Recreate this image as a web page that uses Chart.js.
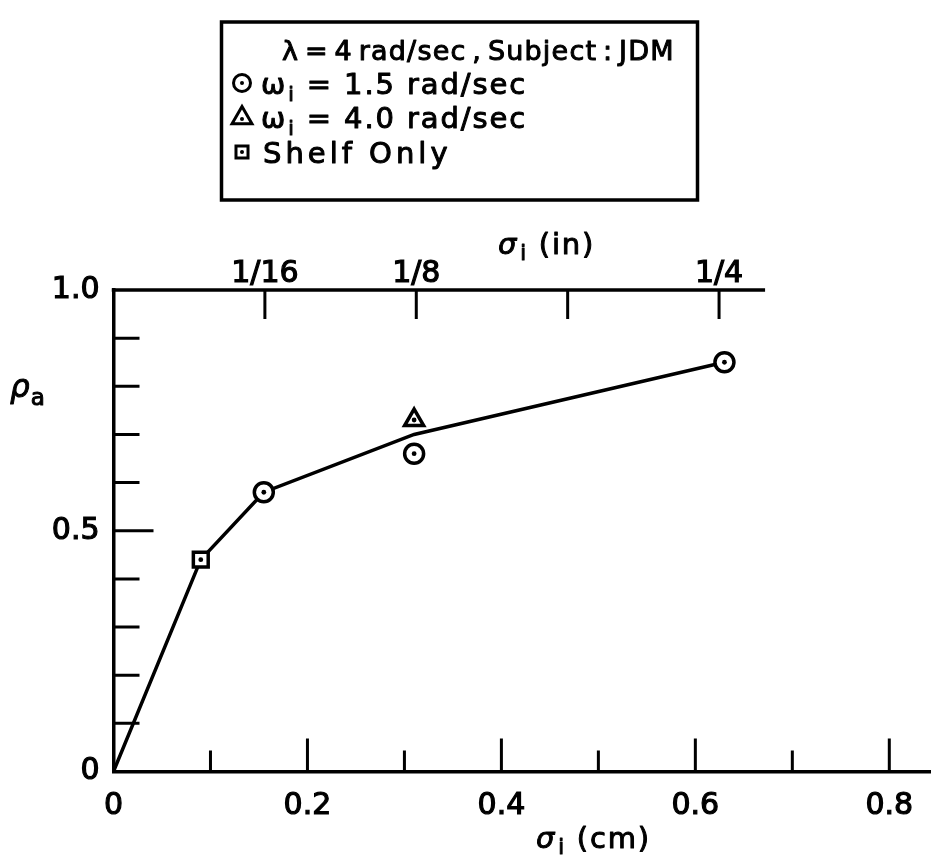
<!DOCTYPE html>
<html>
<head>
<meta charset="utf-8">
<script src="https://cdn.jsdelivr.net/npm/chart.js@4"></script>
<style>
  html, body { margin: 0; padding: 0; background: #fff; }
  #wrap { width: 931px; height: 863px; }
</style>
</head>
<body>
<div id="wrap"><canvas id="chart" width="931" height="863"></canvas></div>
<script>
// Measured aperture ratio rho_a against tracking error sigma_i (cm)
const sigmaOmega15 = [0.155, 0.31, 0.63];
const rhoOmega15 = [0.58, 0.66, 0.85];
const sigmaOmega40 = [0.31];
const rhoOmega40 = [0.73];
const sigmaShelf = [0.09];
const rhoShelf = [0.44];

// Faired curve through the data
const fairSigma = [0, 0.09, 0.155, 0.31, 0.63];
const fairRho = [0, 0.44, 0.58, 0.70, 0.85];

// Axis ticks
const cmTicks = [0, 0.1, 0.2, 0.3, 0.4, 0.5, 0.6, 0.7, 0.8];
const cmTickLabels = ['0', '', '0.2', '', '0.4', '', '0.6', '', '0.8'];
const rhoTicks = [0, 0.1, 0.2, 0.3, 0.4, 0.5, 0.6, 0.7, 0.8, 0.9, 1.0];
const rhoTickLabels = ['0', '', '', '', '', '0.5', '', '', '', '', '1.0'];
const inchTicks = [1 / 16, 1 / 8, 3 / 16, 1 / 4];
const inchTickLabels = ['1/16', '1/8', '', '1/4'];

const legendTitle = 'λ = 4 rad/sec , Subject : JDM';
const legendRows = [
  { style: 'circle', sub: 'i', pre: 'ω', text: ' = 1.5 rad/sec' },
  { style: 'triangle', sub: 'i', pre: 'ω', text: ' = 4.0 rad/sec' },
  { style: 'rect', sub: '', pre: '', text: 'Shelf Only' }
];

const INK = '#000';
const FONT = 'DejaVu Sans';

const pts = (xs, ys) => xs.map((x, i) => ({ x, y: ys[i] }));

// Draws a run of text pieces, each with its own font and baseline shift
function drawRuns(ctx, runs, x, y, spacing, wordSpacing) {
  ctx.save();
  ctx.fillStyle = INK;
  ctx.strokeStyle = INK;
  ctx.lineWidth = 1;
  ctx.lineJoin = 'round';
  ctx.textAlign = 'left';
  ctx.textBaseline = 'alphabetic';
  if ('letterSpacing' in ctx) ctx.letterSpacing = (spacing || 0) + 'px';
  if ('wordSpacing' in ctx) ctx.wordSpacing = (wordSpacing || 0) + 'px';
  let cx = x;
  for (const r of runs) {
    ctx.font = r.font;
    const tx = cx + (r.dx || 0);
    ctx.fillText(r.t, tx, y + (r.dy || 0));
    ctx.strokeText(r.t, tx, y + (r.dy || 0));
    cx = tx + ctx.measureText(r.t).width;
  }
  ctx.restore();
  return cx;
}

const decorPlugin = {
  id: 'decor',
  beforeDatasetsDraw(chart) {
    const { ctx, chartArea, scales } = chart;
    const xs = scales.x, ys = scales.y, xt = scales.xIn;
    ctx.save();
    ctx.strokeStyle = INK;
    ctx.lineCap = 'butt';
    ctx.lineWidth = 3;
    ctx.beginPath();
    // inward ticks on the cm axis
    cmTicks.forEach((v, i) => {
      if (v === 0) return;
      const px = xs.getPixelForValue(v);
      const len = cmTickLabels[i] ? 33 : 21;
      ctx.moveTo(px, chartArea.bottom);
      ctx.lineTo(px, chartArea.bottom - len);
    });
    // inward ticks on the rho axis
    rhoTicks.forEach((v, i) => {
      if (v === 0 || v === 1) return;
      const py = ys.getPixelForValue(v);
      const len = rhoTickLabels[i] ? 40 : 26;
      ctx.moveTo(chartArea.left, py);
      ctx.lineTo(chartArea.left + len, py);
    });
    // inward ticks on the inch axis
    inchTicks.forEach((v) => {
      const px = xt.getPixelForValue(v);
      ctx.moveTo(px, chartArea.top);
      ctx.lineTo(px, chartArea.top + 29);
    });
    ctx.stroke();
    // inch axis line, stopping short of the right edge
    ctx.lineWidth = 3.5;
    ctx.beginPath();
    ctx.moveTo(xt.getPixelForValue(0) - 1.75, chartArea.top);
    ctx.lineTo(xt.getPixelForValue(0.269), chartArea.top);
    ctx.stroke();
    ctx.restore();
  },
  afterDraw(chart) {
    const { ctx } = chart;
    // axis titles
    drawRuns(ctx, [
      { t: 'σ', font: `italic 29px ${FONT}` },
      { t: 'i', font: `21px ${FONT}`, dy: 6, dx: 2 },
      { t: ' (cm)', font: `29px ${FONT}` }
    ], 536, 848, 1.8);
    drawRuns(ctx, [
      { t: 'σ', font: `italic 29px ${FONT}` },
      { t: 'i', font: `21px ${FONT}`, dy: 6, dx: 2 },
      { t: ' (in)', font: `29px ${FONT}` }
    ], 498, 254, 1.8);
    drawRuns(ctx, [
      { t: 'ρ', font: `italic 31px ${FONT}` },
      { t: 'a', font: `23px ${FONT}`, dy: 8, dx: 1 }
    ], 10, 397, 0);

    // legend box
    ctx.save();
    ctx.strokeStyle = INK;
    ctx.lineWidth = 3.5;
    ctx.strokeRect(221.5, 22, 476, 178);
    ctx.restore();

    const rowY = [60, 94, 128, 163];
    drawRuns(ctx, [{ t: legendTitle, font: `27px ${FONT}` }], 282, rowY[0], 1.2, -4);
    legendRows.forEach((row, i) => {
      const y = rowY[i + 1];
      const my = y - 11;
      ctx.save();
      ctx.fillStyle = '#fff';
      ctx.strokeStyle = INK;
      ctx.lineWidth = 3;
      const r = row.style === 'circle' ? 8.5 : row.style === 'triangle' ? 11.5 : 8.5;
      Chart.helpers.drawPoint(ctx, { pointStyle: row.style, radius: r, rotation: 0, borderWidth: 3 }, 242, my + (row.style === 'triangle' ? 1 : 0));
      ctx.fillStyle = INK;
      ctx.beginPath();
      ctx.arc(242, my + (row.style === 'triangle' ? 2 : 0), 2, 0, Math.PI * 2);
      ctx.fill();
      ctx.restore();
      const runs = [];
      if (row.pre) runs.push({ t: row.pre, font: `29px ${FONT}` });
      if (row.sub) runs.push({ t: row.sub, font: `20px ${FONT}`, dy: 7, dx: 1 });
      runs.push({ t: row.text, font: `29px ${FONT}` });
      drawRuns(ctx, runs, row.pre ? 261 : 263, y, row.pre ? 1.9 : 4, row.pre ? -3 : 0);
    });
  }
};

const tickFont = { family: FONT, size: 30 };
const noPadX = (h) => (s) => { s.height = h; s.paddingLeft = 0; s.paddingRight = 0; };

new Chart(document.getElementById('chart'), {
  type: 'scatter',
  data: {
    datasets: [
      {
        label: 'centre dots',
        data: pts(sigmaOmega15, rhoOmega15).concat(pts(sigmaOmega40, rhoOmega40), pts(sigmaShelf, rhoShelf)),
        pointRadius: 2.4,
        pointBackgroundColor: INK,
        pointBorderWidth: 0,
        order: 0
      },
      {
        label: 'ω_i = 1.5 rad/sec',
        data: pts(sigmaOmega15, rhoOmega15),
        pointStyle: 'circle',
        pointRadius: 9.5,
        pointBorderWidth: 3.5,
        pointBorderColor: INK,
        pointBackgroundColor: '#fff',
        order: 1
      },
      {
        label: 'ω_i = 4.0 rad/sec',
        data: pts(sigmaOmega40, rhoOmega40),
        pointStyle: 'triangle',
        pointRadius: 11,
        pointBorderWidth: 3.5,
        pointBorderColor: INK,
        pointBackgroundColor: '#fff',
        order: 1
      },
      {
        label: 'Shelf Only',
        data: pts(sigmaShelf, rhoShelf),
        pointStyle: 'rect',
        pointRadius: 10.5,
        pointBorderWidth: 3.5,
        pointBorderColor: INK,
        pointBackgroundColor: '#fff',
        order: 1
      },
      {
        label: 'faired curve',
        data: pts(fairSigma, fairRho),
        showLine: true,
        borderColor: INK,
        borderWidth: 3.5,
        tension: 0,
        pointRadius: 0,
        order: 2
      }
    ]
  },
  options: {
    responsive: false,
    animation: false,
    devicePixelRatio: 1,
    layout: { padding: 0, autoPadding: false },
    plugins: { legend: { display: false }, tooltip: { enabled: false } },
    scales: {
      x: {
        type: 'linear',
        position: 'bottom',
        min: 0,
        max: 0.843,
        afterBuildTicks: (s) => { s.ticks = cmTicks.map((v) => ({ value: v })); },
        afterFit: noPadX(91.5),
        grid: { display: false },
        border: { display: true, color: INK, width: 3.5 },
        ticks: {
          autoSkip: false,
          maxRotation: 0,
          padding: 9,
          color: INK,
          textStrokeColor: INK,
          textStrokeWidth: 1.2,
          font: tickFont,
          callback: (v, i) => cmTickLabels[i]
        }
      },
      xIn: {
        type: 'linear',
        position: 'top',
        min: 0,
        max: 0.3375,
        afterBuildTicks: (s) => { s.ticks = inchTicks.map((v) => ({ value: v })); },
        afterFit: noPadX(290),
        grid: { display: false },
        border: { display: false },
        ticks: {
          autoSkip: false,
          maxRotation: 0,
          padding: -10,
          color: INK,
          textStrokeColor: INK,
          textStrokeWidth: 1.2,
          font: tickFont,
          callback: (v, i) => inchTickLabels[i]
        }
      },
      y: {
        type: 'linear',
        min: 0,
        max: 1,
        afterBuildTicks: (s) => { s.ticks = rhoTicks.map((v) => ({ value: v })); },
        afterFit: (s) => { s.width = 113.5; s.paddingTop = 0; s.paddingBottom = 0; },
        grid: { display: false },
        border: { display: true, color: INK, width: 3.5 },
        ticks: {
          autoSkip: false,
          padding: 6,
          color: INK,
          textStrokeColor: INK,
          textStrokeWidth: 1.2,
          font: tickFont,
          callback: (v, i) => rhoTickLabels[i]
        }
      }
    }
  },
  plugins: [decorPlugin]
});
</script>
</body>
</html>
